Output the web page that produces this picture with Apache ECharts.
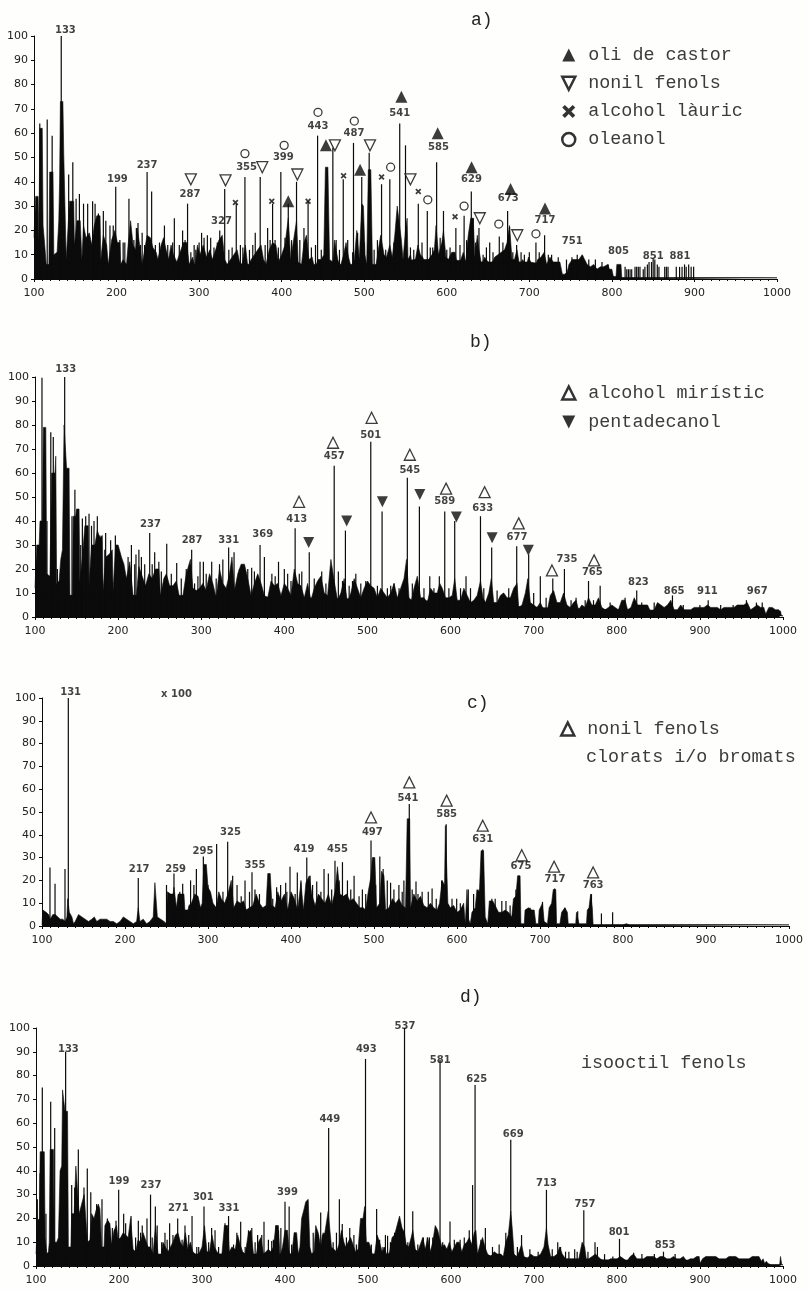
<!DOCTYPE html>
<html><head><meta charset="utf-8">
<style>html,body{margin:0;padding:0;background:#fefefc}#c{width:807px;height:1290px}</style>
<script src="https://cdn.jsdelivr.net/npm/echarts@6/dist/echarts.min.js"></script>
</head><body><div id="c"></div>
<script>
// ---------- panel a ----------
const envA=[[100,17],[102,34],[105,34],[106,16],[107,62],[110,62],[111,22],[113,14],[115,5],[118,6],[119,44],[123,44],[124,10],[128,11],[130,24],[131,40],[132,73],[135,73],[136,52],[138,52],[139,8],[141,8],[143,32],[148,32],[149,14],[152,24],[156,24],[158,8],[160,22],[163,17],[167,19],[170,14],[173,22],[176,26],[180,26],[181,8],[184,18],[188,14],[190,6],[194,16],[198,20],[201,15],[204,15],[205,6],[208,8],[212,6],[214,14],[217,24],[220,14],[223,12],[225,21],[228,14],[231,6],[234,12],[237,18],[241,17],[244,13],[248,11],[250,8],[254,14],[257,17],[260,12],[263,8],[266,14],[269,10],[273,7],[277,11],[281,15],[285,15],[288,6],[292,9],[295,5],[298,14],[301,10],[305,14],[309,9],[313,12],[316,8],[320,12],[324,16],[328,18],[331,8],[334,6],[338,8],[342,10],[346,12],[349,7],[352,6],[356,14],[359,5],[363,8],[367,10],[371,12],[375,14],[378,8],[381,6],[385,12],[389,15],[393,14],[396,7],[400,10],[404,14],[408,25],[411,8],[414,15],[418,24],[420,7],[424,6],[427,15],[430,18],[433,8],[437,9],[440,4],[444,8],[448,8],[451,10],[453,46],[456,46],[458,8],[462,7],[464,16],[468,8],[471,5],[475,10],[478,15],[481,9],[484,5],[488,8],[491,20],[494,8],[497,31],[499,30],[501,10],[503,6],[505,45],[508,45],[510,5],[514,5],[517,12],[520,18],[524,10],[527,9],[531,14],[534,9],[537,18],[540,30],[542,30],[545,16],[547,8],[550,20],[552,25],[553,8],[556,10],[558,6],[562,8],[565,14],[568,10],[571,9],[574,5],[578,8],[582,10],[585,12],[587,22],[590,10],[594,15],[596,20],[599,9],[602,8],[606,11],[610,11],[613,5],[617,8],[620,11],[623,7],[626,18],[629,25],[632,25],[634,9],[637,18],[639,12],[642,6],[646,9],[650,7],[654,6],[658,9],[662,10],[666,11],[670,12],[673,15],[676,22],[679,8],[682,8],[685,12],[688,6],[692,8],[696,5],[699,9],[703,6],[706,4],[710,8],[714,9],[718,11],[721,6],[725,9],[729,7],[733,7],[737,7],[740,2],[743,2],[746,3],[748,6],[752,8],[756,8],[760,8],[764,10],[767,8],[770,6],[774,5],[778,6],[782,4],[786,5],[790,5],[795,6],[798,3],[802,1],[805,1],[806,6],[811,6],[812,0.5],[1000,0.5]];
const floorA=[[100,6],[280,6],[400,6],[540,6],[560,8],[600,8],[640,7],[700,7],[736,5],[737,1],[746,1],[747,4],[800,4],[802,0.5],[1000,0.5]];
const sticksA=[[116,65.6],[122,59],[107,64],[133,100],[142,43],[147,48],[151,33],[155,35],[160,31],[165,31],[171,32],[174,31],[178,27],[184,28],[187,24],[196,22],[199,38],[208,15],[215,33],[224,21],[226,23],[231,19],[237,44],[242.5,36],[258,22],[270,25],[280,20],[286,31],[294,14],[303,19],[310,18],[314,17],[325,20],[331,37],[345,31],[355.5,42],[368,19],[374,42],[383,21],[389,31],[399,44],[408,31],[418,40],[427,21],[432,32],[443.5,59],[462,54],[474.6,41],[487,56],[497,42],[506,52],[521,39],[531,41],[543,64],[550,55],[565.5,31],[576.4,28],[580,13],[587.7,48],[596,28],[611,21],[621,26],[626,15],[629.7,36],[632,25],[639,21],[652,15],[663.6,17.5],[673.7,28],[676,21.5],[684.6,14],[708,15],[718.5,18],[751.6,9],[764.5,9.6],[795.6,6],[816,5],[818,4],[820,4],[822,4],[824,4],[828,5],[830,5],[832,5],[834,5],[838,4],[840,5],[843,6],[845,7],[848,7],[850,8.5],[852,8],[855,6],[857,5],[864,5],[866,5],[868,5],[878,5],[882,5],[885,5],[888,6],[890,5],[893,6],[896,5],[899,5]];
const fineA=[[192,22],[204,16],[210,15],[221,16],[229,14],[234,14],[247,14],[252,15],[262,14],[268,15],[276,14],[283,16],[290,11],[296,12],[300,15],[306,17],[318,13],[322,15],[336,12],[340,13],[350,14],[353,13],[361,12],[365,14],[380,14],[386,16],[392,16],[396,13],[404,17],[412,16],[422,16],[436,13],[441,14],[448,12],[466,16],[470,12],[480,16],[486,11],[492,19],[500,15],[512,12],[516,16],[526,12],[536,15],[556,13],[560,12],[570,15],[583,13],[592,17],[600,12],[604,13],[616,14],[624,16],[635,15],[644,10],[648,13],[656,11],[668,15],[680,11],[690,11],[694,10],[700,11],[712,11],[723,10],[727,10],[735,9],[745,8],[758,10],[772,8],[780,8],[788,7]];
const castorA=[[408,32],[453.6,55],[495,45],[545,75],[589,60],[630,46],[677.3,37],[719,29]];
const nonilA=[[290,41],[332,40.6],[376.5,46],[419,43],[464.5,55],[507,55],[556,41],[640,25],[685.4,18]];
const lauricA=[[344,31.5],[388,32],[432,32],[475,42.5],[521,42],[565.5,36],[610,25.6]];
const oleanolA=[[355.5,51.6],[403,55],[444,68.6],[488,65],[532,46],[577,32.6],[621,30],[663,22.6],[708,18.6]];
const labelsA=[[138,102.5,'133'],[201,41,'199'],[237,46.6,'237'],[289,35,'287'],[327,23.7,'327'],[357.5,46,'355'],[402,50,'399'],[444,63,'443'],[487.6,60,'487'],[543,68,'541'],[590,54,'585'],[630,41,'629'],[674.5,33,'673'],[719,24,'717'],[752,15.4,'751'],[808,11.3,'805'],[850,9.3,'851'],[882.4,9.3,'881']];
// ---------- panel b ----------
const envB=[[100,12],[102,30],[105,30],[106,40],[109,40],[110,79],[113,79],[114,18],[118,17],[120,60],[124,60],[125,67],[126,14],[129,15],[131,24],[133,28],[135,80],[137,80],[138,62],[141,62],[142,9],[145,9],[146,42],[149,42],[150,45],[153,45],[154,15],[157,25],[160,38],[164,38],[165,13],[168,30],[172,30],[175,36],[178,33],[181,34],[182,11],[185,25],[189,26],[193,28],[194,11],[197,30],[200,30],[204,25],[207,22],[210,16],[214,23],[218,9],[222,9],[225,21],[229,17],[233,13],[237,18],[241,16],[245,20],[249,20],[251,9],[255,16],[258,18],[262,13],[266,13],[270,15],[274,8],[278,9],[282,18],[287,24],[290,12],[294,11],[298,12],[302,14],[306,11],[310,18],[314,14],[318,8],[322,20],[326,14],[330,12],[334,18],[337,25],[340,11],[344,18],[348,22],[352,22],[356,16],[360,9],[364,14],[368,18],[372,14],[376,9],[380,8],[384,15],[388,13],[392,14],[396,9],[400,14],[404,12],[408,9],[412,20],[416,14],[420,13],[424,8],[428,14],[432,7],[436,12],[440,15],[444,17],[448,10],[452,9],[456,24],[460,15],[464,7],[468,10],[472,16],[476,6],[480,10],[484,16],[488,12],[492,8],[496,12],[500,15],[504,13],[508,12],[512,8],[516,12],[520,10],[524,8],[528,10],[532,14],[536,8],[540,12],[544,16],[547,24],[550,8],[553,7],[556,12],[560,17],[564,8],[568,8],[572,6],[576,12],[580,10],[584,10],[587,14],[590,12],[594,8],[598,8],[602,9],[605,16],[608,7],[612,7],[616,12],[620,9],[624,6],[628,7],[632,9],[636,15],[639,8],[642,6],[646,10],[649,16],[652,6],[656,6],[660,9],[664,10],[668,8],[672,8],[676,12],[680,14],[682,4],[686,5],[690,10],[693,16],[696,6],[700,5],[704,4],[708,6],[712,3],[716,2],[720,9],[724,11],[728,6],[732,6],[736,10],[740,5],[744,4],[748,6],[751,7],[754,3],[758,5],[762,4],[766,8],[770,5],[774,5],[778,8],[782,4],[786,3],[790,4],[794,5],[798,4],[802,3],[806,7],[810,7],[813,3],[817,4],[821,8],[825,5],[829,5],[833,5],[837,5],[841,2],[845,3],[849,6],[853,5],[857,4],[861,5],[865,7],[869,3],[873,3],[877,5],[881,3],[885,3],[889,3],[893,4],[897,4],[901,4],[905,4],[909,5],[913,4],[917,4],[921,4],[925,3],[929,4],[933,4],[937,4],[941,4],[945,5],[949,5],[953,5],[957,6],[961,3],[965,4],[969,5],[973,4],[977,4],[979,1],[981,1],[983,4],[987,4],[991,3],[995,3],[997,3],[998,0.5],[1000,0.5]];
const floorB=[[100,9],[300,9],[420,8],[560,7],[650,5],[700,4],[800,3],[978,2.5],[979,1],[982,1],[983,2.5],[997,2.5],[998,0.5],[1000,0.5]];
const sticksB=[[108.4,99.7],[114.4,40],[119,77],[122,75],[135.7,100],[144.5,42],[148,53],[151,45],[157,41],[161,42],[165,43],[171,40],[175,42],[178,34],[185,35],[191,32],[196.7,34],[216,30],[221.5,26],[225,28],[228,25],[238,35],[244,27],[249,23],[258.5,30.5],[270.5,22.5],[288.5,28],[298.6,23],[302.6,23],[312.6,23],[326,24],[333,29],[339.5,27],[360.7,20.5],[370.8,30],[376,25],[393,23],[400,20],[413,37],[421,19],[430,27],[445,19],[460,63],[465,19],[473.5,36],[486,18],[504,73],[517.6,44],[532,14],[548,58],[554,14],[562.5,46],[575,17],[586.5,17],[593,44],[605,40],[618.6,17],[636,42],[640,12],[649.5,29],[663.5,10],[679.6,29.5],[694,26],[708,17],[723,16],[737,20],[751,8],[766,15],[780,13],[810,8],[824,11],[867,9],[910,7],[968,6]];
const fineB=[[112,30],[127,20],[155,30],[168,38],[184,28],[202,26],[212,25],[220,22],[232,22],[241,22],[252,19],[264,18],[276,16],[282,20],[292,14],[296,17],[306,18],[318,16],[322,22],[346,20],[350,20],[356,20],[364,19],[385,18],[389,17],[404,18],[408,15],[418,18],[436,16],[441,15],[450,14],[470,15],[478,13],[482,15],[492,14],[498,15],[512,13],[524,12],[528,13],[538,12],[544,13],[568,12],[580,12],[598,12],[612,12],[624,12],[656,11],[670,12],[700,10],[715,8],[745,7],[762,7],[772,7],[792,6],[830,6],[845,6],[880,5],[900,5],[925,5],[940,5],[956,7],[975,6]];
const miristicB=[[417.7,48],[458.6,72.6],[505,83],[551,67.6],[594.6,53.5],[641,52],[682,39],[722,19.4],[772.7,23.6]];
const pentaB=[[429.3,31],[475,40],[518,48],[563,51],[607,41.7],[650,33],[693.6,27.8]];
const labelsB=[[137,103,'133'],[239,38.5,'237'],[289,32,'287'],[333,32,'331'],[374,34.5,'369'],[415,40.7,'413'],[460,67,'457'],[504,75.7,'501'],[551,61,'545'],[593,48,'589'],[638.7,45.4,'633'],[680,33.3,'677'],[740,24,'735'],[770.6,18.5,'765'],[826,14.4,'823'],[869,10.8,'865'],[909,10.5,'911'],[969,10.5,'967']];
// ---------- panel c ----------
const envC=[[100,0.5],[101,7],[105,6],[108,5],[110,3],[113,5],[116,5],[118,5],[122,3],[125,3],[128,2],[130,4],[131,12],[133,6],[136,4],[138,1],[140,2],[144,5],[148,4],[152,3],[156,2],[160,3],[163,4],[166,2],[170,3],[174,3],[178,3],[182,2],[186,2],[190,1],[194,2],[198,4],[202,3],[206,2],[210,1],[214,2],[216,8],[218,2],[222,3],[226,1],[230,2],[234,4],[236,19],[238,19],[239,4],[243,3],[247,2],[250,1],[251,15],[255,14],[258,14],[259,17],[262,8],[264,14],[268,14],[271,14],[273,2],[275,2],[277,9],[280,10],[284,14],[288,13],[291,8],[293,10],[295,27],[298,27],[300,17],[303,15],[306,10],[310,8],[313,15],[316,12],[320,10],[324,14],[328,20],[331,8],[335,11],[339,10],[343,11],[346,7],[350,8],[354,9],[358,14],[362,10],[366,8],[370,9],[372,23],[375,23],[377,9],[381,8],[384,15],[388,11],[392,14],[396,7],[400,15],[404,12],[408,7],[412,19],[415,7],[418,19],[422,22],[425,14],[429,9],[433,14],[437,12],[441,10],[445,14],[449,9],[453,15],[456,26],[459,14],[463,13],[467,14],[471,11],[475,12],[479,10],[483,8],[487,8],[490,7],[493,15],[496,21],[498,30],[501,30],[503,8],[507,10],[509,24],[512,22],[514,7],[518,8],[522,12],[526,10],[530,12],[534,9],[538,8],[540,47],[543,47],[544,8],[548,14],[552,11],[556,13],[560,9],[564,8],[568,10],[572,8],[576,7],[579,10],[582,20],[585,18],[586,44],[588,44],[589,10],[592,8],[596,9],[600,6],[604,7],[608,10],[610,1],[612,16],[614,3],[616,1],[618,6],[622,8],[624,16],[627,15],[629,33],[632,33],[634,4],[637,1],[639,11],[643,11],[646,9],[650,6],[654,6],[658,7],[662,6],[666,4],[668,12],[671,13],[673,22],[676,22],[677,1],[681,1],[682,7],[686,8],[690,7],[693,7],[695,1],[698,1],[699,7],[703,10],[705,2],[709,1],[711,8],[714,10],[716,16],[719,16],[720,1],[724,1],[726,6],[730,8],[733,6],[734,1],[743,1],[744,6],[746,6],[747,1],[756,1],[757,7],[759,8],[761,14],[763,8],[764,0.5],[800,0.5],[804,1],[808,0.5],[1000,0.5]];
const floorC=[[100,0.5],[250,0.5],[251,7],[520,7],[600,6],[610,1],[620,1],[621,5],[630,5],[634,1],[640,1],[641,6],[665,4],[666,0.5],[1000,0.5]];
const sticksC=[[109.6,25.7],[115.7,18.5],[127.7,25],[131.7,100],[216,21],[250,18],[259,23],[269.5,18.5],[279,20],[286,25],[294.4,30.5],[310.4,36],[323.7,37],[329.7,22],[344.6,20],[353,23.6],[356.6,16],[382.7,17],[387.5,18],[393.6,19],[398.8,26],[407.6,23.5],[412,20],[419,30],[423,22],[431,19.5],[439.8,25],[445,23],[453,28.6],[462,28],[468,20],[476,22],[486,16],[496.4,37.5],[507,30.5],[511,25],[520,19],[530,18],[536,20],[542.5,53.5],[550.6,19.5],[565.4,15],[570,16.5],[581.5,20],[587,44.6],[599.6,12],[613.6,16],[631,33.5],[626.5,16],[642,12],[659,11],[671,16],[674.3,22],[688,8],[703,10.6],[717.6,16.5],[730,8],[745.4,6.5],[762,14],[774,5.5],[787.5,6]];
const fineC=[[266,15],[283,18],[300,18],[318,15],[335,18],[340,13],[350,15],[362,14],[378,12],[395,15],[405,14],[426,18],[436,15],[449,16],[458,20],[472,16],[482,13],[490,14],[502,18],[516,20],[524,16],[534,15],[546,16],[553,14],[558,15],[575,12],[594,12],[604,10],[620,14],[646,12],[654,11],[664,9]];
const nonilC=[[496.4,47.6],[542.5,63],[587.5,55],[631,44],[678,31],[717,26],[764,23.5]];
const labelsC=[[134.5,102.6,'131'],[262,101.5,'x 100'],[217,25,'217'],[261,25,'259'],[294,32.6,'295'],[327,41,'325'],[356.6,26.6,'355'],[415.6,33.8,'419'],[456,33.8,'455'],[498,41,'497'],[541,56,'541'],[587.5,49,'585'],[631,38,'631'],[677,26,'675'],[718,20.5,'717'],[764,17.7,'763']];
// ---------- panel d ----------
const envD=[[100,5],[102,19],[104,20],[105,48],[110,48],[111,12],[113,5],[115,6],[116,10],[117,49],[121,49],[122,10],[125,10],[127,12],[129,40],[131,42],[132,74],[134,74],[135,65],[138,65],[139,8],[142,8],[143,22],[146,22],[148,42],[150,42],[152,22],[155,26],[158,30],[160,30],[162,10],[165,11],[167,22],[170,20],[172,23],[175,26],[177,24],[179,8],[182,8],[183,17],[186,19],[189,18],[191,9],[194,15],[197,17],[199,11],[202,12],[205,14],[208,13],[211,12],[214,20],[217,7],[220,6],[223,11],[226,10],[229,14],[232,11],[235,8],[238,8],[241,5],[244,17],[247,5],[250,3],[253,10],[256,8],[259,6],[262,8],[265,10],[268,13],[271,14],[274,10],[277,8],[280,14],[283,7],[286,10],[289,6],[292,5],[296,5],[300,8],[303,17],[306,6],[309,6],[312,13],[315,8],[318,6],[321,5],[324,5],[327,17],[331,17],[333,6],[336,8],[340,7],[343,13],[346,9],[349,6],[352,5],[356,14],[359,15],[362,5],[365,4],[368,10],[371,12],[374,5],[377,6],[380,7],[383,6],[386,8],[389,17],[392,17],[394,4],[397,8],[400,15],[403,15],[405,6],[408,4],[411,14],[414,14],[416,5],[418,8],[420,20],[423,24],[425,27],[428,28],[430,8],[432,5],[435,6],[437,17],[440,14],[443,8],[445,13],[448,14],[450,14],[452,23],[454,23],[456,8],[459,7],[462,6],[465,9],[468,15],[471,10],[473,8],[476,10],[479,12],[482,9],[485,6],[488,7],[491,20],[494,20],[496,25],[498,10],[501,10],[503,8],[505,5],[508,5],[511,13],[514,10],[517,6],[520,8],[523,4],[526,6],[529,12],[532,13],[534,13],[538,21],[541,16],[544,14],[546,9],[549,8],[552,12],[554,15],[557,7],[560,6],[563,9],[566,12],[569,7],[572,12],[575,6],[578,10],[581,17],[584,15],[586,12],[589,8],[592,9],[595,7],[598,10],[601,6],[604,8],[607,10],[610,10],[613,6],[616,9],[619,10],[622,12],[625,9],[628,14],[630,15],[632,5],[635,9],[638,12],[641,8],[644,5],[648,4],[652,6],[656,5],[660,5],[663,4],[666,10],[669,13],[672,23],[674,15],[676,5],[679,4],[682,6],[685,9],[688,4],[692,3],[696,5],[700,4],[704,4],[708,5],[712,8],[715,16],[717,9],[720,4],[724,4],[728,5],[731,8],[734,5],[738,3],[742,3],[746,3],[750,3],[754,3],[758,10],[761,8],[763,3],[766,3],[770,4],[774,5],[777,4],[780,3],[784,2],[788,2],[792,3],[796,3],[800,3],[804,4],[808,3],[812,2],[816,4],[820,5],[824,3],[828,3],[832,3],[836,4],[840,4],[844,4],[848,3],[852,4],[856,4],[860,3],[864,3],[868,4],[872,3],[876,3],[880,4],[884,2],[888,3],[892,3],[896,4],[899,4],[900,1],[902,1],[903,3],[907,4],[911,4],[915,4],[919,4],[923,3],[927,3],[931,3],[935,4],[939,4],[943,4],[947,3],[951,3],[955,3],[959,3],[963,4],[967,4],[971,4],[974,2],[976,3],[978,1],[980,2],[982,1],[986,0.5],[996,0.5],[997,4],[998,4],[998.5,0.5],[1000,0.5]];
const floorD=[[100,5],[300,5],[500,5],[620,5],[660,4],[720,3],[800,2.5],[899,2.5],[900,0.5],[903,0.5],[904,2],[970,2],[975,1],[980,0.5],[1000,0.5]];
const sticksD=[[101.6,28],[105,39],[107.6,75],[112,22],[117.7,69],[122.5,58],[135.7,90],[143,34],[146.6,33],[151,49],[157.8,33],[161.8,41],[166,31],[173,26],[179.5,28],[187,19],[196.4,19],[199.6,32],[205.6,22],[214.5,21],[223.3,19],[228,17],[233.7,20],[238,30],[243.8,25],[246,17],[251.4,10],[255.4,14],[261,18],[270.7,20],[279.5,17],[288,21],[293.7,8],[302.4,25],[311.6,16],[315.7,15],[327.7,18],[332,21],[346.6,18.6],[360,16],[367,13],[372,13],[374.7,18.6],[384,10.5],[389,17],[395,16],[400,27],[405,25],[413,13],[443,22.5],[452.6,58],[465.5,28],[469,17.6],[478,16],[483,13],[497,87],[510.4,24],[521,13],[523.6,12.7],[544,100],[553.9,23],[566.7,12],[571.5,12],[586.8,86.6],[598.8,18.7],[611,11],[622,15],[629,76],[626,34],[641.4,16],[666,14],[672,53],[685,13],[715,32],[728.6,10],[732,8],[749,7],[760,23.4],[773.5,10],[776.4,8],[803,11.4],[820,5.6],[856,6]];
const fineD=[[186,20],[192,16],[208,18],[220,12],[226,14],[240,12],[258,11],[265,13],[276,11],[284,13],[296,8],[308,10],[320,8],[338,9],[342,14],[352,8],[356,15],[364,10],[380,11],[386,11],[392,15],[408,9],[412,14],[434,14],[440,13],[446,14],[458,10],[462,14],[474,12],[486,9],[490,12],[504,9],[514,11],[518,8],[527,10],[532,14],[548,10],[560,9],[574,12],[578,12],[590,10],[604,11],[616,12],[636,11],[650,8],[658,9],[680,8],[695,7],[705,6],[722,7],[738,6],[742,6],[752,6],[765,6],[785,5],[795,4],[830,5],[845,5],[870,5]];
const labelsD=[[139,91,'133'],[200,35.5,'199'],[238.5,34,'237'],[271.5,24.4,'271'],[301.6,29,'301'],[332.5,24,'331'],[403,31,'399'],[454,61.5,'449'],[498,91,'493'],[544.6,100.7,'537'],[587,86.5,'581'],[631,78.6,'625'],[675,55.5,'669'],[715,34.8,'713'],[761.5,26,'757'],[802.5,14,'801'],[858,8.8,'853']];
// ---------- shared tick labels ----------
const xTicks=[100,200,300,400,500,600,700,800,900,1000];
const yTicks=[0,10,20,30,40,50,60,70,80,90,100];

const INK='#0b0b0b';
const CROSS='path://M0,2L2,0L5,3L8,0L10,2L7,5L10,8L8,10L5,7L2,10L0,8L3,5Z';
const DOWN='path://M0,0L10,0L5,10Z';
const hollow={color:'#fff',borderColor:INK,borderWidth:1.3};
const solid={color:INK};
const panels=[
 {box:[34,36,777,279],env:envA,floor:floorA,sticks:sticksA,fine:fineA,labels:labelsA,marks:[
  {name:'oli de castor',data:castorA,symbol:'triangle',size:12,style:solid},
  {name:'nonil fenols',data:nonilA,symbol:'triangle',rot:180,size:11,style:hollow},
  {name:'alcohol làuric',data:lauricA,symbol:CROSS,size:6,style:solid},
  {name:'oleanol',data:oleanolA,symbol:'circle',size:8,style:hollow}]},
 {box:[35,377,783,617],env:envB,floor:floorB,sticks:sticksB,fine:fineB,labels:labelsB,marks:[
  {name:'alcohol mirístic',data:miristicB,symbol:'triangle',size:11,style:hollow},
  {name:'pentadecanol',data:pentaB,symbol:'triangle',rot:180,size:11,style:solid}]},
 {box:[42,698,789,926],env:envC,floor:floorC,sticks:sticksC,fine:fineC,labels:labelsC,marks:[
  {name:'nonil fenols',data:nonilC,symbol:'triangle',size:11,style:hollow}]},
 {box:[36,1028,783,1266],env:envD,floor:floorD,sticks:sticksD,fine:fineD,labels:labelsD,marks:[]}
];
const grid=[],xAxis=[],yAxis=[],series=[];
panels.forEach((p,i)=>{
 const [l,t,r,b]=p.box;
 grid.push({left:l,top:t,width:r-l,height:b-t});
 xAxis.push({type:'value',gridIndex:i,min:100,max:1000,interval:100,splitLine:{show:false},
  axisLine:{onZero:false,lineStyle:{color:INK,width:1}},
  axisTick:{length:3,lineStyle:{color:INK}},
  minorTick:{show:true,splitNumber:10,length:2,lineStyle:{color:INK}},
  axisLabel:{color:'#222',fontFamily:'DejaVu Sans',fontSize:11,margin:9,customValues:xTicks,formatter:v=>String(v)}});
 yAxis.push({type:'value',gridIndex:i,min:0,max:100,interval:10,splitLine:{show:false},
  axisLine:{show:true,lineStyle:{color:INK,width:1}},
  axisTick:{show:true,length:3,lineStyle:{color:INK}},
  axisLabel:{color:'#222',fontFamily:'DejaVu Sans',fontSize:11,margin:6,customValues:yTicks,formatter:v=>String(v)}});
 [['massa ',p.env],['base ',p.floor]].forEach(s=>series.push({type:'line',name:s[0]+i,xAxisIndex:i,yAxisIndex:i,data:s[1],showSymbol:false,symbol:'none',silent:true,
  lineStyle:{color:INK,width:0.6},areaStyle:{color:INK,opacity:1},clip:false,z:2}));
 series.push({type:'bar',name:'pics '+i,xAxisIndex:i,yAxisIndex:i,data:p.sticks,barWidth:1.2,
  itemStyle:{color:INK},silent:true,z:3});
 series.push({type:'scatter',name:'pics fins '+i,xAxisIndex:i,yAxisIndex:i,data:p.fine,symbol:'none',silent:true});
 series[series.length-1]={type:'bar',name:'pics fins '+i,xAxisIndex:i+4,yAxisIndex:i+4,data:p.fine,barWidth:1.2,
  itemStyle:{color:INK},silent:true,z:3};
 p.marks.forEach(m=>series.push({type:'scatter',name:m.name,xAxisIndex:i,yAxisIndex:i,data:m.data,symbol:m.symbol,
  symbolRotate:m.rot||0,symbolSize:m.size,itemStyle:m.style,clip:false,z:5,silent:true}));
 series.push({type:'scatter',name:'etiquetes '+i,xAxisIndex:i,yAxisIndex:i,data:p.labels,symbolSize:1,
  itemStyle:{color:'rgba(0,0,0,0)'},clip:false,z:6,silent:true,
  label:{show:true,position:'inside',formatter:q=>q.value[2],color:'#111',fontFamily:'DejaVu Sans',fontWeight:'bold',fontSize:10}});
});
// hidden twin axes so the short sticks share each panel's scales without bars sitting side by side
panels.forEach((p,i)=>{
 const [l,t,r,b]=p.box;
 grid.push({left:l,top:t,width:r-l,height:b-t});
 xAxis.push({type:'value',gridIndex:i+4,min:100,max:1000,show:false});
 yAxis.push({type:'value',gridIndex:i+4,min:0,max:100,show:false});
});
const legTxt={color:'#3c3c3c',fontFamily:'Liberation Mono',fontSize:18.4,padding:[0,0,0,8]};
const heavy={color:'#fff',borderColor:'#000',borderWidth:2.5};
const dark={color:'#000',borderWidth:0};
const legBase={orient:'vertical',selectedMode:false,itemWidth:13,itemHeight:13,itemGap:10.2,textStyle:legTxt};
const titleStyle={color:'#222',fontFamily:'Liberation Mono',fontSize:18,fontWeight:'normal'};
const noteStyle={color:'#3c3c3c',fontFamily:'Liberation Mono',fontSize:18.4,fontWeight:'normal'};
const option={
 backgroundColor:'#fefefc',animation:false,
 title:[
  {text:'a)',left:471,top:11,textStyle:titleStyle,padding:0},
  {text:'b)',left:470,top:333,textStyle:titleStyle,padding:0},
  {text:'c)',left:467,top:694,textStyle:titleStyle,padding:0},
  {text:'d)',left:460,top:988,textStyle:titleStyle,padding:0},
  {text:'clorats i/o bromats',left:586,top:748,textStyle:noteStyle,padding:0},
  {text:'isooctil fenols',left:581,top:1054,textStyle:noteStyle,padding:0}],
 legend:[
  Object.assign({},legBase,{left:556,top:41,data:[
   {name:'oli de castor',icon:'triangle',itemStyle:dark},
   {name:'nonil fenols',icon:DOWN,itemStyle:heavy},
   {name:'alcohol làuric',icon:CROSS,itemStyle:dark},
   {name:'oleanol',icon:'circle',itemStyle:heavy}]}),
  Object.assign({},legBase,{left:556,top:379,itemGap:11,data:[
   {name:'alcohol mirístic',icon:'triangle',itemStyle:heavy},
   {name:'pentadecanol',icon:DOWN,itemStyle:dark}]}),
  Object.assign({},legBase,{left:555,top:715,data:[
   {name:'nonil fenols',icon:'triangle',itemStyle:heavy}]})
 ],
 grid,xAxis,yAxis,series
};
echarts.init(document.getElementById('c'),null,{renderer:'canvas'}).setOption(option);
</script></body></html>
